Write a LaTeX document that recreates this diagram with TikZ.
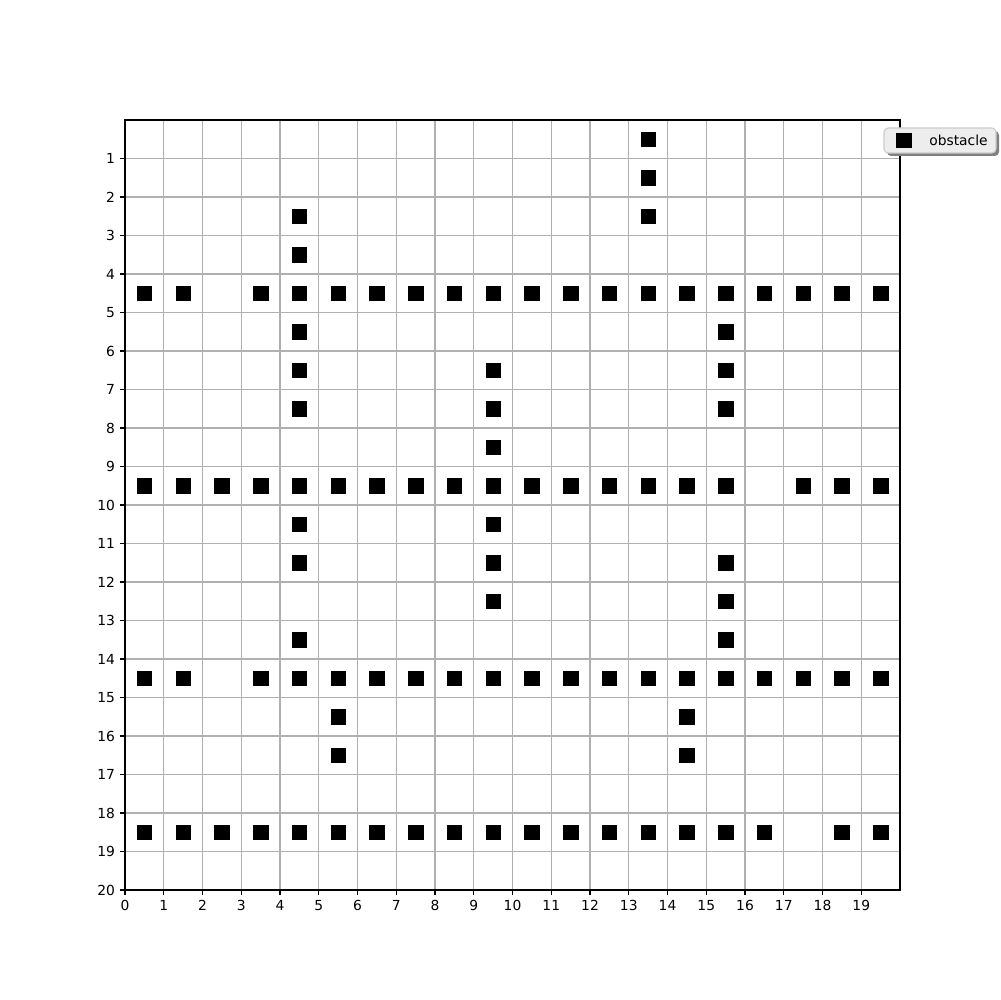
\documentclass[tikz,border=0pt]{standalone}
\usepackage{fontspec}
\setmainfont{DejaVu Sans}
\begin{document}
\begin{tikzpicture}[x=0.01in,y=-0.01in,
  gridline/.style={draw=black!31,line width=0.8pt},
  spine/.style={draw=black,line width=0.8pt},
  tickmark/.style={draw=black,line width=0.8pt},
  ticklabel/.style={font=\fontsize{10}{12}\selectfont,inner sep=0pt},
  obst/.style={fill=black,draw=black,line width=0.5pt,minimum size=0.145in,inner sep=0pt,shape=rectangle},
  legendbox/.style={rounded corners=3pt,fill=black!7,draw=black!20,line width=0.8pt},
  legshadow/.style={rounded corners=3pt,fill=black!50}]
\useasboundingbox (0,0) rectangle (1000,1000);
% grid
\foreach \i in {1,...,19} \draw[gridline] ({125+38.75*\i},120) -- ++(0,770);
\foreach \j in {1,...,19} \draw[gridline] (125,{120+38.5*\j}) -- ++(775,0);
% obstacles
\foreach \X/\Y in {13.5/0.5,13.5/1.5,13.5/2.5,4.5/2.5,4.5/3.5,
  4.5/5.5,15.5/5.5,4.5/6.5,9.5/6.5,15.5/6.5,4.5/7.5,9.5/7.5,15.5/7.5,9.5/8.5,
  4.5/10.5,9.5/10.5,4.5/11.5,9.5/11.5,15.5/11.5,9.5/12.5,15.5/12.5,4.5/13.5,15.5/13.5,
  5.5/15.5,14.5/15.5,5.5/16.5,14.5/16.5}
  \node[obst] at ({125+38.75*\X},{120+38.5*\Y}) {};
\foreach \X in {0.5,1.5,3.5,4.5,5.5,6.5,7.5,8.5,9.5,10.5,11.5,12.5,13.5,14.5,15.5,16.5,17.5,18.5,19.5} {
  \node[obst] at ({125+38.75*\X},{120+38.5*4.5}) {};
  \node[obst] at ({125+38.75*\X},{120+38.5*14.5}) {};
}
\foreach \X in {0.5,1.5,2.5,3.5,4.5,5.5,6.5,7.5,8.5,9.5,10.5,11.5,12.5,13.5,14.5,15.5,17.5,18.5,19.5}
  \node[obst] at ({125+38.75*\X},{120+38.5*9.5}) {};
\foreach \X in {0.5,1.5,2.5,3.5,4.5,5.5,6.5,7.5,8.5,9.5,10.5,11.5,12.5,13.5,14.5,15.5,16.5,18.5,19.5}
  \node[obst] at ({125+38.75*\X},{120+38.5*18.5}) {};
% spines
\draw[spine] (125,120) rectangle (900,890);
% ticks
\foreach \i in {0,...,19} {
  \draw[tickmark] ({125+38.75*\i},890) -- ++(0,4.86);
  \node[ticklabel,anchor=north] (xl\i) at ({125+38.75*\i},899.7) {\i};
}
\foreach \j in {1,...,20} {
  \draw[tickmark] (125,{120+38.5*\j}) -- ++(-4.86,0);
  \node[ticklabel,anchor=east] (yl\j) at (115.3,{120+38.5*\j}) {\j};
}
% legend
\fill[legshadow] (887,131) rectangle (999,156);
\draw[legendbox] (884,128) rectangle (996,153);
\node[obst] (legmark) at (904,140.5) {};
\node[ticklabel,anchor=west] (legtext) at (929,140.5) {obstacle};
\end{tikzpicture}
\end{document}
